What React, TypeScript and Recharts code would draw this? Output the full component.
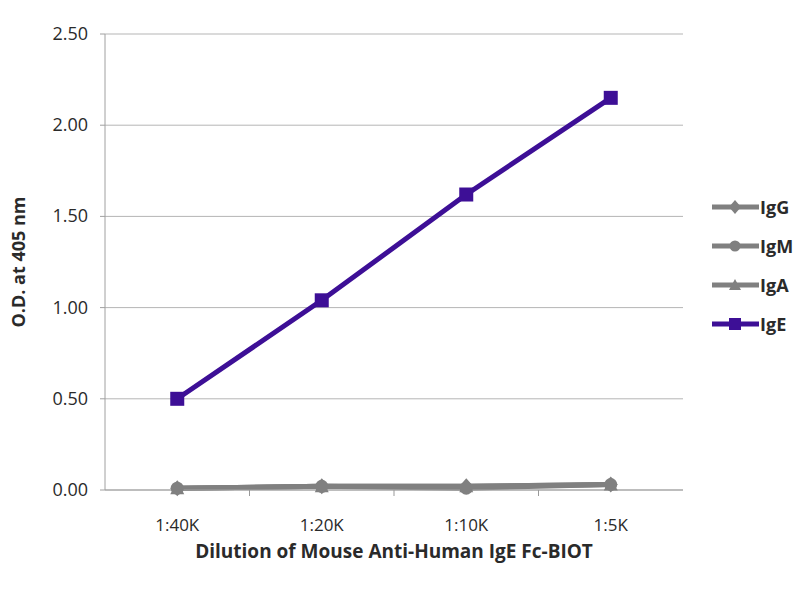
import React from "react"
import {
  LineChart,
  Line,
  XAxis,
  YAxis,
  CartesianGrid,
  Legend,
} from "recharts"

const dilutions = ["1:40K", "1:20K", "1:10K", "1:5K"]
const seriesNames = ["IgG", "IgM", "IgA", "IgE"]
const igG = [0.01, 0.02, 0.02, 0.03]
const igM = [0.01, 0.02, 0.01, 0.03]
const igA = [0.01, 0.02, 0.02, 0.03]
const igE = [0.5, 1.04, 1.62, 2.15]
const yTicks = [0, 0.5, 1, 1.5, 2, 2.5]
const xTicks = [0, 0.5, 1, 1.5, 2, 2.5, 3]

const data = dilutions.map((d, i) => ({
  idx: i,
  dilution: d,
  IgG: igG[i],
  IgM: igM[i],
  IgA: igA[i],
  IgE: igE[i],
}))

const GRAY = "#808080"
const PURPLE = "#3d0f96"
const TEXT = "#2a2a2a"
const FONT = "'Open Sans', 'Liberation Sans', sans-serif"

// marker shapes
function Marker({ cx, cy, kind, color, s = 7 }: any) {
  if (cx == null || cy == null) return null
  if (kind === "diamond")
    return (
      <polygon
        points={`${cx},${cy - s - 1} ${cx + s},${cy} ${cx},${cy + s + 1} ${cx - s},${cy}`}
        fill={color}
      />
    )
  if (kind === "circle") return <circle cx={cx} cy={cy} r={s - 0.5} fill={color} />
  if (kind === "triangle")
    return (
      <polygon
        points={`${cx},${cy - s} ${cx + s},${cy + s - 1} ${cx - s},${cy + s - 1}`}
        fill={color}
      />
    )
  return <rect x={cx - s} y={cy - s} width={s * 2} height={s * 2} fill={color} />
}

const kinds: Record<string, string> = {
  IgG: "diamond",
  IgM: "circle",
  IgA: "triangle",
  IgE: "square",
}

function XTick({ x, y, payload }: any) {
  const v = payload.value
  if (Number.isInteger(v)) {
    return (
      <text
        x={x}
        y={y + 33}
        textAnchor="middle"
        fill={TEXT}
        fontSize={17}
        fontFamily={FONT}
      >
        {dilutions[v]}
      </text>
    )
  }
  return <line x1={x} x2={x} y1={y - 8} y2={y - 2} stroke="#999" />
}

function YTick({ x, y, payload }: any) {
  return (
    <text
      x={x}
      y={y}
      dy={6}
      textAnchor="end"
      fill={TEXT}
      fontSize={18}
      fontFamily={FONT}
    >
      {payload.value.toFixed(2)}
    </text>
  )
}

function YLabel({ viewBox }: any) {
  const cx = viewBox.x - 22
  const cy = viewBox.y + viewBox.height / 2
  return (
    <text
      x={cx}
      y={cy}
      transform={`rotate(-90 ${cx} ${cy})`}
      textAnchor="middle"
      dominantBaseline="central"
      fill={TEXT}
      fontSize={18}
      fontWeight={700}
      fontFamily={FONT}
    >
      O.D. at 405 nm
    </text>
  )
}

function LegendContent({ payload }: any) {
  const items = [...(payload || [])].sort(
    (a: any, b: any) => seriesNames.indexOf(a.value) - seriesNames.indexOf(b.value)
  )
  return (
    <div style={{ fontFamily: FONT }}>
      {items.map((e: any) => (
        <div
          key={e.value}
          style={{ display: "flex", alignItems: "center", height: 39 }}
        >
          <svg width={47} height={20}>
            <line x1={0} x2={47} y1={10} y2={10} stroke={e.color} strokeWidth={5} />
            <Marker cx={23} cy={10} kind={kinds[e.value]} color={e.color} s={6} />
          </svg>
          <span
            style={{
              fontWeight: 700,
              fontSize: 18,
              color: TEXT,
              marginLeft: 1,
            }}
          >
            {e.value}
          </span>
        </div>
      ))}
    </div>
  )
}

export default function App() {
  const colors: Record<string, string> = {
    IgG: GRAY,
    IgM: GRAY,
    IgA: GRAY,
    IgE: PURPLE,
  }
  return (
    <div style={{ position: "absolute", left: 0, top: 0, background: "#fff" }}>
      <LineChart
        width={800}
        height={600}
        data={data}
        margin={{ top: 34, right: 117, left: 40, bottom: 30 }}
      >
        <CartesianGrid vertical={false} stroke="#b5b5b5" />
        <XAxis
          dataKey="idx"
          type="number"
          domain={[-0.5, 3.5]}
          ticks={xTicks}
          interval={0}
          tickLine={false}
          tick={<XTick />}
          height={80}
          axisLine={{ stroke: "#a0a0a0" }}
          label={{
            value: "Dilution of Mouse Anti-Human IgE Fc-BIOT",
            position: "insideBottom",
            offset: 12,
            fill: TEXT,
            fontSize: 19,
            fontWeight: 700,
            fontFamily: FONT,
          }}
        />
        <YAxis
          width={65}
          domain={[0, 2.5]}
          ticks={yTicks}
          interval={0}
          tick={<YTick />}
          tickSize={5}
          tickMargin={12}
          stroke="#a0a0a0"
          label={<YLabel />}
        />
        <Legend
          layout="vertical"
          align="center"
          verticalAlign="middle"
          content={<LegendContent />}
          wrapperStyle={{ left: 712, top: 187, width: 90 }}
        />
        {seriesNames.map((name) => (
          <Line
            key={name}
            dataKey={name}
            stroke={colors[name]}
            strokeWidth={5}
            isAnimationActive={false}
            dot={(p: any) => (
              <Marker
                key={`${name}-${p.index}`}
                cx={p.cx}
                cy={p.cy}
                kind={kinds[name]}
                color={colors[name]}
              />
            )}
            activeDot={false}
          />
        ))}
      </LineChart>
    </div>
  )
}
